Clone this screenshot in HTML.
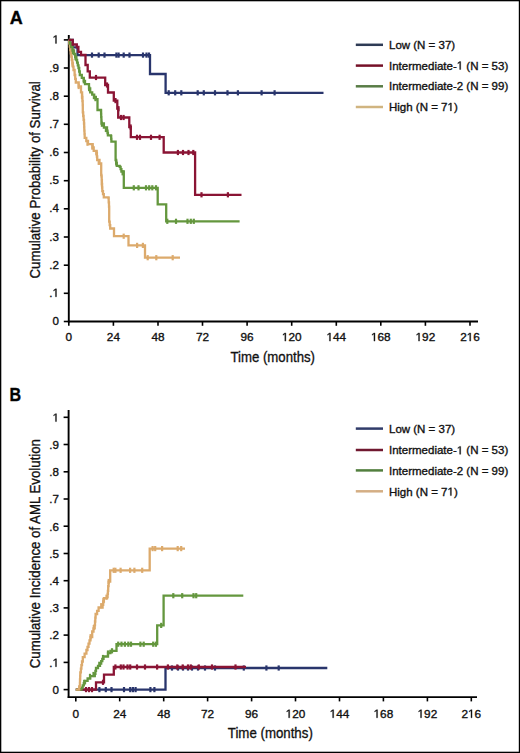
<!DOCTYPE html>
<html><head><meta charset="utf-8"><title>Kaplan-Meier curves</title>
<style>html,body{margin:0;padding:0;background:#fff;}body{width:520px;height:753px;overflow:hidden;font-family:"Liberation Sans",sans-serif;}svg{display:block;}</style>
</head><body>
<svg width="520" height="753" viewBox="0 0 520 753" font-family="Liberation Sans, sans-serif"><style>text{stroke:#111;stroke-width:0.35px;}.o1{fill:none;stroke:none;}</style>
<rect x="0" y="0" width="520" height="753" fill="#fff"/>
<text x="9.8" y="24.4" font-size="18" font-weight="bold" fill="#000">A</text>
<text x="9.4" y="400.8" font-size="18" font-weight="bold" fill="#000" textLength="11.6" lengthAdjust="spacingAndGlyphs">B</text>
<g stroke="#000" stroke-width="1.9" fill="none">
<line x1="68.8" y1="35.0" x2="68.8" y2="322.4"/>
<line x1="67.9" y1="321.5" x2="478.0" y2="321.5"/>
<line x1="63.8" y1="321.5" x2="68.8" y2="321.5" stroke-width="1.6"/>
<line x1="63.8" y1="293.3" x2="68.8" y2="293.3" stroke-width="1.6"/>
<line x1="63.8" y1="265.2" x2="68.8" y2="265.2" stroke-width="1.6"/>
<line x1="63.8" y1="237.0" x2="68.8" y2="237.0" stroke-width="1.6"/>
<line x1="63.8" y1="208.8" x2="68.8" y2="208.8" stroke-width="1.6"/>
<line x1="63.8" y1="180.7" x2="68.8" y2="180.7" stroke-width="1.6"/>
<line x1="63.8" y1="152.5" x2="68.8" y2="152.5" stroke-width="1.6"/>
<line x1="63.8" y1="124.3" x2="68.8" y2="124.3" stroke-width="1.6"/>
<line x1="63.8" y1="96.2" x2="68.8" y2="96.2" stroke-width="1.6"/>
<line x1="63.8" y1="68.0" x2="68.8" y2="68.0" stroke-width="1.6"/>
<line x1="63.8" y1="39.9" x2="68.8" y2="39.9" stroke-width="1.6"/>
<line x1="68.8" y1="321.5" x2="68.8" y2="325.8" stroke-width="1.6"/>
<line x1="113.4" y1="321.5" x2="113.4" y2="325.8" stroke-width="1.6"/>
<line x1="158.0" y1="321.5" x2="158.0" y2="325.8" stroke-width="1.6"/>
<line x1="202.5" y1="321.5" x2="202.5" y2="325.8" stroke-width="1.6"/>
<line x1="247.1" y1="321.5" x2="247.1" y2="325.8" stroke-width="1.6"/>
<line x1="291.7" y1="321.5" x2="291.7" y2="325.8" stroke-width="1.6"/>
<line x1="336.3" y1="321.5" x2="336.3" y2="325.8" stroke-width="1.6"/>
<line x1="380.8" y1="321.5" x2="380.8" y2="325.8" stroke-width="1.6"/>
<line x1="425.4" y1="321.5" x2="425.4" y2="325.8" stroke-width="1.6"/>
<line x1="470.0" y1="321.5" x2="470.0" y2="325.8" stroke-width="1.6"/>
</g>
<g font-size="11.6" fill="#111" text-anchor="end">
<text x="59" y="325.0">0</text>
<text x="59" y="296.8">.<tspan class="o1">1</tspan></text>
<text x="59" y="268.7">.2</text>
<text x="59" y="240.5">.3</text>
<text x="59" y="212.3">.4</text>
<text x="59" y="184.2">.5</text>
<text x="59" y="156.0">.6</text>
<text x="59" y="127.8">.7</text>
<text x="59" y="99.7">.8</text>
<text x="59" y="71.5">.9</text>
<text x="59" y="43.4"><tspan class="o1">1</tspan></text>
</g>
<g font-size="11.8" fill="#111" text-anchor="middle">
<text x="68.8" y="341.1">0</text>
<text x="113.4" y="341.1">24</text>
<text x="158.0" y="341.1">48</text>
<text x="202.5" y="341.1">72</text>
<text x="247.1" y="341.1">96</text>
<text x="291.7" y="341.1"><tspan class="o1">1</tspan>20</text>
<text x="336.3" y="341.1"><tspan class="o1">1</tspan>44</text>
<text x="380.8" y="341.1"><tspan class="o1">1</tspan>68</text>
<text x="425.4" y="341.1"><tspan class="o1">1</tspan>92</text>
<text x="470.0" y="341.1">2<tspan class="o1">1</tspan>6</text>
</g>
<g stroke="#000" stroke-width="1.9" fill="none">
<line x1="68.6" y1="410.0" x2="68.6" y2="698.0"/>
<line x1="67.7" y1="697.1" x2="477.0" y2="697.1"/>
<line x1="63.6" y1="689.6" x2="68.6" y2="689.6" stroke-width="1.6"/>
<line x1="63.6" y1="662.4" x2="68.6" y2="662.4" stroke-width="1.6"/>
<line x1="63.6" y1="635.1" x2="68.6" y2="635.1" stroke-width="1.6"/>
<line x1="63.6" y1="607.9" x2="68.6" y2="607.9" stroke-width="1.6"/>
<line x1="63.6" y1="580.7" x2="68.6" y2="580.7" stroke-width="1.6"/>
<line x1="63.6" y1="553.5" x2="68.6" y2="553.5" stroke-width="1.6"/>
<line x1="63.6" y1="526.2" x2="68.6" y2="526.2" stroke-width="1.6"/>
<line x1="63.6" y1="499.0" x2="68.6" y2="499.0" stroke-width="1.6"/>
<line x1="63.6" y1="471.8" x2="68.6" y2="471.8" stroke-width="1.6"/>
<line x1="63.6" y1="444.5" x2="68.6" y2="444.5" stroke-width="1.6"/>
<line x1="63.6" y1="417.3" x2="68.6" y2="417.3" stroke-width="1.6"/>
<line x1="75.8" y1="697.1" x2="75.8" y2="701.4" stroke-width="1.6"/>
<line x1="119.7" y1="697.1" x2="119.7" y2="701.4" stroke-width="1.6"/>
<line x1="163.7" y1="697.1" x2="163.7" y2="701.4" stroke-width="1.6"/>
<line x1="207.6" y1="697.1" x2="207.6" y2="701.4" stroke-width="1.6"/>
<line x1="251.6" y1="697.1" x2="251.6" y2="701.4" stroke-width="1.6"/>
<line x1="295.5" y1="697.1" x2="295.5" y2="701.4" stroke-width="1.6"/>
<line x1="339.5" y1="697.1" x2="339.5" y2="701.4" stroke-width="1.6"/>
<line x1="383.4" y1="697.1" x2="383.4" y2="701.4" stroke-width="1.6"/>
<line x1="427.4" y1="697.1" x2="427.4" y2="701.4" stroke-width="1.6"/>
<line x1="471.3" y1="697.1" x2="471.3" y2="701.4" stroke-width="1.6"/>
</g>
<g font-size="11.6" fill="#111" text-anchor="end">
<text x="59" y="693.9">0</text>
<text x="59" y="666.7">.<tspan class="o1">1</tspan></text>
<text x="59" y="639.4">.2</text>
<text x="59" y="612.2">.3</text>
<text x="59" y="585.0">.4</text>
<text x="59" y="557.8">.5</text>
<text x="59" y="530.5">.6</text>
<text x="59" y="503.3">.7</text>
<text x="59" y="476.1">.8</text>
<text x="59" y="448.8">.9</text>
<text x="59" y="421.6"><tspan class="o1">1</tspan></text>
</g>
<g font-size="11.8" fill="#111" text-anchor="middle">
<text x="75.8" y="717.8">0</text>
<text x="119.7" y="717.8">24</text>
<text x="163.7" y="717.8">48</text>
<text x="207.6" y="717.8">72</text>
<text x="251.6" y="717.8">96</text>
<text x="295.5" y="717.8"><tspan class="o1">1</tspan>20</text>
<text x="339.5" y="717.8"><tspan class="o1">1</tspan>44</text>
<text x="383.4" y="717.8"><tspan class="o1">1</tspan>68</text>
<text x="427.4" y="717.8"><tspan class="o1">1</tspan>92</text>
<text x="471.3" y="717.8">2<tspan class="o1">1</tspan>6</text>
</g>
<text x="230.4" y="362" font-size="15.5" fill="#111" textLength="84.6" lengthAdjust="spacingAndGlyphs">Time (months)</text>
<text x="227.8" y="738.2" font-size="15.5" fill="#111" textLength="85" lengthAdjust="spacingAndGlyphs">Time (months)</text>
<text transform="translate(39.9,278.5) rotate(-90)" font-size="15" fill="#111" textLength="197.2" lengthAdjust="spacingAndGlyphs">Cumulative Probability of Survival</text>
<text transform="translate(39.7,668.3) rotate(-90)" font-size="15" fill="#111" textLength="229.3" lengthAdjust="spacingAndGlyphs">Cumulative Incidence of AML Evolution</text>
<line x1="355.8" y1="44.8" x2="383" y2="44.8" stroke="#2e3b55" stroke-width="2.5"/>
<text x="389" y="48.7" font-size="11.5" fill="#111">Low (N = 37)</text>
<line x1="355.8" y1="65.6" x2="383" y2="65.6" stroke="#751027" stroke-width="2.5"/>
<text x="389" y="69.5" font-size="11.5" fill="#111">Intermediate-<tspan class="o1">1</tspan> (N = 53)</text>
<line x1="355.8" y1="86.3" x2="383" y2="86.3" stroke="#587c45" stroke-width="2.5"/>
<text x="389" y="90.2" font-size="11.5" fill="#111">Intermediate-2 (N = 99)</text>
<line x1="355.8" y1="107.0" x2="383" y2="107.0" stroke="#d0b480" stroke-width="2.5"/>
<text x="389" y="110.9" font-size="11.5" fill="#111">High (N = 7<tspan class="o1">1</tspan>)</text>
<line x1="355.8" y1="428.6" x2="383" y2="428.6" stroke="#303c6a" stroke-width="2.5"/>
<text x="389" y="432.9" font-size="11.5" fill="#111">Low (N = 37)</text>
<line x1="355.8" y1="450.0" x2="383" y2="450.0" stroke="#701830" stroke-width="2.5"/>
<text x="389" y="454.3" font-size="11.5" fill="#111">Intermediate-<tspan class="o1">1</tspan> (N = 53)</text>
<line x1="355.8" y1="470.4" x2="383" y2="470.4" stroke="#527f3e" stroke-width="2.5"/>
<text x="389" y="474.7" font-size="11.5" fill="#111">Intermediate-2 (N = 99)</text>
<line x1="355.8" y1="491.3" x2="383" y2="491.3" stroke="#d4ae84" stroke-width="2.5"/>
<text x="389" y="495.6" font-size="11.5" fill="#111">High (N = 7<tspan class="o1">1</tspan>)</text>
<path d="M68.8,39.9 L72.7,39.9 L72.7,47.3 L77.5,47.3 L77.5,55.1 L150.0,55.1 L150.0,74.0 L165.6,74.0 L165.6,92.8 L323.5,92.8" stroke="#29356c" stroke-width="2.3" fill="none" stroke-linejoin="miter" stroke-linecap="butt"/><g stroke="#29356c" stroke-width="2.2"><line x1="92.0" y1="52.5" x2="92.0" y2="57.7"/><line x1="98.7" y1="52.5" x2="98.7" y2="57.7"/><line x1="104.5" y1="52.5" x2="104.5" y2="57.7"/><line x1="116.4" y1="52.5" x2="116.4" y2="57.7"/><line x1="118.6" y1="52.5" x2="118.6" y2="57.7"/><line x1="123.7" y1="52.5" x2="123.7" y2="57.7"/><line x1="129.5" y1="52.5" x2="129.5" y2="57.7"/><line x1="143.0" y1="52.5" x2="143.0" y2="57.7"/><line x1="146.5" y1="52.5" x2="146.5" y2="57.7"/><line x1="149.0" y1="52.5" x2="149.0" y2="57.7"/><line x1="168.7" y1="90.2" x2="168.7" y2="95.4"/><line x1="175.2" y1="90.2" x2="175.2" y2="95.4"/><line x1="181.3" y1="90.2" x2="181.3" y2="95.4"/><line x1="197.7" y1="90.2" x2="197.7" y2="95.4"/><line x1="203.8" y1="90.2" x2="203.8" y2="95.4"/><line x1="215.0" y1="90.2" x2="215.0" y2="95.4"/><line x1="227.5" y1="90.2" x2="227.5" y2="95.4"/><line x1="237.9" y1="90.2" x2="237.9" y2="95.4"/><line x1="261.6" y1="90.2" x2="261.6" y2="95.4"/><line x1="274.6" y1="90.2" x2="274.6" y2="95.4"/></g>
<path d="M68.8,39.9 L69.3,39.9 L69.3,43.3 L69.8,43.3 L69.8,46.6 L70.3,46.6 L70.3,50.0 L70.8,50.0 L70.8,53.3 L71.3,53.3 L71.3,56.7 L71.8,56.7 L71.8,60.0 L72.4,60.0 L72.4,63.3 L72.9,63.3 L72.9,66.7 L73.5,66.7 L73.5,70.0 L74.6,70.0 L74.6,75.0 L75.2,75.0 L75.2,78.8 L75.8,78.8 L75.8,82.5 L78.7,82.5 L78.7,86.5 L81.0,86.5 L81.0,92.3 L82.1,92.3 L82.1,96.9 L82.4,96.9 L82.4,101.0 L82.7,101.0 L82.7,105.0 L82.8,105.0 L82.8,108.7 L82.8,108.7 L82.8,112.3 L83.2,112.3 L83.2,116.0 L83.6,116.0 L83.6,119.8 L84.0,119.8 L84.0,123.5 L84.2,123.5 L84.2,127.1 L84.3,127.1 L84.3,130.7 L84.5,130.7 L84.5,134.2 L84.7,134.2 L84.7,137.8 L86.3,137.8 L86.3,141.0 L88.0,141.0 L88.0,144.2 L92.7,144.2 L92.7,147.4 L93.7,147.4 L93.7,150.8 L96.6,150.8 L96.6,153.0 L96.9,153.0 L96.9,156.5 L97.2,156.5 L97.2,160.0 L99.5,160.0 L99.5,163.5 L101.2,163.5 L101.2,164.6 L101.2,175.0 L101.5,175.0 L101.5,176.5 L101.7,176.5 L101.7,180.2 L101.9,180.2 L101.9,183.8 L102.1,183.8 L102.1,187.5 L102.3,187.5 L102.3,191.2 L103.0,191.2 L103.0,194.2 L103.8,194.2 L103.8,197.3 L108.5,197.3 L108.5,198.0 L108.7,198.0 L108.7,202.3 L109.0,202.3 L109.0,206.7 L109.2,206.7 L109.2,211.0 L109.2,221.7 L109.7,221.7 L109.7,225.1 L110.2,225.1 L110.2,228.5 L114.0,228.5 L114.0,236.2 L128.5,236.2 L128.5,245.4 L145.0,245.4 L145.0,257.7 L180.0,257.7" stroke="#dcaa6c" stroke-width="2.3" fill="none" stroke-linejoin="miter" stroke-linecap="butt"/><g stroke="#dcaa6c" stroke-width="2.2"><line x1="72.5" y1="61.5" x2="72.5" y2="66.7"/><line x1="78.7" y1="83.9" x2="78.7" y2="89.1"/><line x1="82.0" y1="93.9" x2="82.0" y2="99.1"/><line x1="87.5" y1="140.6" x2="87.5" y2="145.8"/><line x1="92.3" y1="144.5" x2="92.3" y2="149.7"/><line x1="96.3" y1="150.2" x2="96.3" y2="155.4"/><line x1="98.7" y1="159.7" x2="98.7" y2="164.9"/><line x1="101.9" y1="181.3" x2="101.9" y2="186.5"/><line x1="123.7" y1="233.6" x2="123.7" y2="238.8"/><line x1="137.1" y1="242.8" x2="137.1" y2="248.0"/><line x1="142.9" y1="242.8" x2="142.9" y2="248.0"/><line x1="147.7" y1="255.1" x2="147.7" y2="260.3"/><line x1="156.3" y1="255.1" x2="156.3" y2="260.3"/><line x1="172.7" y1="255.1" x2="172.7" y2="260.3"/></g>
<path d="M68.8,39.9 L69.9,39.9 L69.9,43.5 L71.0,43.5 L71.0,47.0 L72.5,47.0 L72.5,50.5 L74.0,50.5 L74.0,54.0 L75.2,54.0 L75.2,57.0 L76.4,57.0 L76.4,60.0 L77.1,60.0 L77.1,62.7 L77.8,62.7 L77.8,65.3 L78.5,65.3 L78.5,68.0 L79.2,68.0 L79.2,71.5 L79.8,71.5 L79.8,75.0 L81.8,75.0 L81.8,77.9 L83.8,77.9 L83.8,80.8 L85.0,80.8 L85.0,84.2 L89.0,84.2 L89.0,88.3 L90.2,88.3 L90.2,92.3 L92.2,92.3 L92.2,94.6 L94.2,94.6 L94.2,96.9 L95.8,96.9 L95.8,99.1 L97.5,99.1 L97.5,101.2 L97.5,110.0 L101.0,110.0 L101.0,110.7 L101.1,110.7 L101.1,113.9 L101.2,113.9 L101.2,117.1 L101.4,117.1 L101.4,120.3 L101.5,120.3 L101.5,123.5 L103.9,123.5 L103.9,127.5 L107.0,127.5 L107.0,130.6 L107.5,130.6 L107.5,133.0 L107.9,133.0 L107.9,135.4 L111.0,135.4 L111.0,136.2 L111.2,136.2 L111.2,138.9 L111.4,138.9 L111.4,141.6 L115.6,141.6 L115.6,160.0 L116.2,160.0 L116.2,162.9 L116.8,162.9 L116.8,165.8 L119.7,165.8 L119.7,166.9 L120.6,166.9 L120.6,169.2 L121.4,169.2 L121.4,171.5 L123.8,171.5 L123.8,174.2 L123.8,187.8 L157.7,187.8 L157.7,204.3 L166.2,204.3 L166.2,221.4 L239.6,221.4" stroke="#64973e" stroke-width="2.3" fill="none" stroke-linejoin="miter" stroke-linecap="butt"/><g stroke="#64973e" stroke-width="2.2"><line x1="133.8" y1="185.2" x2="133.8" y2="190.4"/><line x1="138.5" y1="185.2" x2="138.5" y2="190.4"/><line x1="146.0" y1="185.2" x2="146.0" y2="190.4"/><line x1="149.2" y1="185.2" x2="149.2" y2="190.4"/><line x1="152.3" y1="185.2" x2="152.3" y2="190.4"/><line x1="156.0" y1="185.2" x2="156.0" y2="190.4"/><line x1="167.3" y1="218.7" x2="167.3" y2="223.9"/><line x1="176.0" y1="218.7" x2="176.0" y2="223.9"/><line x1="187.5" y1="218.7" x2="187.5" y2="223.9"/><line x1="190.8" y1="218.7" x2="190.8" y2="223.9"/><line x1="193.8" y1="218.7" x2="193.8" y2="223.9"/><line x1="73.0" y1="49.1" x2="73.0" y2="54.3"/><line x1="75.5" y1="55.1" x2="75.5" y2="60.3"/><line x1="83.8" y1="78.2" x2="83.8" y2="83.4"/><line x1="89.1" y1="86.0" x2="89.1" y2="91.2"/><line x1="93.9" y1="94.0" x2="93.9" y2="99.2"/><line x1="95.5" y1="96.0" x2="95.5" y2="101.2"/><line x1="101.9" y1="121.6" x2="101.9" y2="126.8"/><line x1="105.9" y1="126.9" x2="105.9" y2="132.1"/><line x1="116.2" y1="160.3" x2="116.2" y2="165.5"/><line x1="122.6" y1="170.2" x2="122.6" y2="175.4"/></g>
<path d="M68.8,39.9 L72.7,39.9 L72.7,44.5 L76.8,44.5 L76.8,47.0 L78.4,47.0 L78.4,51.8 L81.0,51.8 L81.0,55.0 L85.5,55.0 L85.5,65.0 L87.7,65.0 L87.7,71.4 L89.8,71.4 L89.8,77.7 L105.2,77.7 L105.2,85.0 L108.0,85.0 L108.0,92.5 L113.8,92.5 L113.8,100.6 L117.3,100.6 L117.3,108.7 L118.2,108.7 L118.2,117.5 L129.3,117.5 L129.3,127.0 L130.8,127.0 L130.8,137.2 L163.7,137.2 L163.7,152.5 L195.1,152.5 L195.1,194.8 L241.5,194.8" stroke="#8a1434" stroke-width="2.3" fill="none" stroke-linejoin="miter" stroke-linecap="butt"/><g stroke="#8a1434" stroke-width="2.2"><line x1="96.0" y1="74.9" x2="96.0" y2="80.1"/><line x1="107.0" y1="82.4" x2="107.0" y2="87.6"/><line x1="115.5" y1="98.0" x2="115.5" y2="103.2"/><line x1="118.5" y1="106.1" x2="118.5" y2="111.3"/><line x1="121.0" y1="114.9" x2="121.0" y2="120.1"/><line x1="123.6" y1="114.9" x2="123.6" y2="120.1"/><line x1="130.6" y1="124.4" x2="130.6" y2="129.6"/><line x1="137.0" y1="134.7" x2="137.0" y2="139.9"/><line x1="140.0" y1="134.7" x2="140.0" y2="139.9"/><line x1="151.0" y1="134.7" x2="151.0" y2="139.9"/><line x1="159.6" y1="134.7" x2="159.6" y2="139.9"/><line x1="177.9" y1="149.9" x2="177.9" y2="155.1"/><line x1="183.0" y1="149.9" x2="183.0" y2="155.1"/><line x1="188.5" y1="149.9" x2="188.5" y2="155.1"/><line x1="193.3" y1="149.9" x2="193.3" y2="155.1"/><line x1="201.5" y1="192.2" x2="201.5" y2="197.4"/><line x1="227.9" y1="192.2" x2="227.9" y2="197.4"/></g>
<path d="M75.8,689.6 L165.5,689.6 L165.5,668.0 L327.3,668.0" stroke="#29356c" stroke-width="2.3" fill="none" stroke-linejoin="miter" stroke-linecap="butt"/><g stroke="#29356c" stroke-width="2.2"><line x1="99.4" y1="687.0" x2="99.4" y2="692.2"/><line x1="105.8" y1="687.0" x2="105.8" y2="692.2"/><line x1="111.5" y1="687.0" x2="111.5" y2="692.2"/><line x1="124.0" y1="687.0" x2="124.0" y2="692.2"/><line x1="130.2" y1="687.0" x2="130.2" y2="692.2"/><line x1="132.9" y1="687.0" x2="132.9" y2="692.2"/><line x1="135.6" y1="687.0" x2="135.6" y2="692.2"/><line x1="150.4" y1="687.0" x2="150.4" y2="692.2"/><line x1="154.4" y1="687.0" x2="154.4" y2="692.2"/><line x1="172.0" y1="665.4" x2="172.0" y2="670.6"/><line x1="178.0" y1="665.4" x2="178.0" y2="670.6"/><line x1="183.0" y1="665.4" x2="183.0" y2="670.6"/><line x1="188.0" y1="665.4" x2="188.0" y2="670.6"/><line x1="192.0" y1="665.4" x2="192.0" y2="670.6"/><line x1="198.0" y1="665.4" x2="198.0" y2="670.6"/><line x1="205.0" y1="665.4" x2="205.0" y2="670.6"/><line x1="215.0" y1="665.4" x2="215.0" y2="670.6"/><line x1="243.8" y1="665.4" x2="243.8" y2="670.6"/><line x1="266.4" y1="665.4" x2="266.4" y2="670.6"/><line x1="278.7" y1="665.4" x2="278.7" y2="670.6"/></g>
<path d="M75.8,689.6 L96.0,689.6 L96.0,682.3 L104.0,682.3 L104.0,674.6 L113.8,674.6 L113.8,667.0 L246.0,667.0" stroke="#8a1434" stroke-width="2.3" fill="none" stroke-linejoin="miter" stroke-linecap="butt"/><g stroke="#8a1434" stroke-width="2.2"><line x1="86.0" y1="687.0" x2="86.0" y2="692.2"/><line x1="89.0" y1="687.0" x2="89.0" y2="692.2"/><line x1="92.0" y1="687.0" x2="92.0" y2="692.2"/><line x1="103.0" y1="679.7" x2="103.0" y2="684.9"/><line x1="115.4" y1="664.4" x2="115.4" y2="669.6"/><line x1="120.8" y1="664.4" x2="120.8" y2="669.6"/><line x1="123.5" y1="664.4" x2="123.5" y2="669.6"/><line x1="127.5" y1="664.4" x2="127.5" y2="669.6"/><line x1="130.2" y1="664.4" x2="130.2" y2="669.6"/><line x1="137.0" y1="664.4" x2="137.0" y2="669.6"/><line x1="145.0" y1="664.4" x2="145.0" y2="669.6"/><line x1="157.1" y1="664.4" x2="157.1" y2="669.6"/><line x1="167.9" y1="664.4" x2="167.9" y2="669.6"/><line x1="177.3" y1="664.4" x2="177.3" y2="669.6"/><line x1="182.7" y1="664.4" x2="182.7" y2="669.6"/><line x1="188.0" y1="664.4" x2="188.0" y2="669.6"/><line x1="190.8" y1="664.4" x2="190.8" y2="669.6"/><line x1="198.8" y1="664.4" x2="198.8" y2="669.6"/><line x1="212.0" y1="664.4" x2="212.0" y2="669.6"/><line x1="235.5" y1="664.4" x2="235.5" y2="669.6"/></g>
<path d="M75.8,689.6 L81.5,689.6 L81.5,687.7 L82.7,687.7 L82.7,685.4 L83.8,685.4 L83.8,683.1 L85.0,683.1 L85.0,680.8 L87.6,680.8 L87.6,678.5 L90.2,678.5 L90.2,676.2 L94.8,676.2 L94.8,673.8 L95.4,673.8 L95.4,670.9 L96.0,670.9 L96.0,668.0 L98.0,668.0 L98.0,665.8 L100.0,665.8 L100.0,663.5 L101.2,663.5 L101.2,661.2 L102.3,661.2 L102.3,658.8 L103.5,658.8 L103.5,656.5 L108.0,656.5 L108.0,653.0 L110.4,653.0 L110.4,650.8 L116.5,650.8 L116.5,644.2 L157.2,644.2 L157.2,625.4 L163.6,625.4 L163.6,595.7 L243.3,595.7" stroke="#64973e" stroke-width="2.3" fill="none" stroke-linejoin="miter" stroke-linecap="butt"/><g stroke="#64973e" stroke-width="2.2"><line x1="84.2" y1="679.8" x2="84.2" y2="685.0"/><line x1="90.0" y1="673.8" x2="90.0" y2="679.0"/><line x1="93.5" y1="671.9" x2="93.5" y2="677.1"/><line x1="99.3" y1="661.7" x2="99.3" y2="666.9"/><line x1="103.0" y1="654.9" x2="103.0" y2="660.1"/><line x1="108.0" y1="650.4" x2="108.0" y2="655.6"/><line x1="112.0" y1="648.2" x2="112.0" y2="653.4"/><line x1="118.2" y1="641.6" x2="118.2" y2="646.8"/><line x1="121.5" y1="641.6" x2="121.5" y2="646.8"/><line x1="124.9" y1="641.6" x2="124.9" y2="646.8"/><line x1="128.3" y1="641.6" x2="128.3" y2="646.8"/><line x1="131.0" y1="641.6" x2="131.0" y2="646.8"/><line x1="140.4" y1="641.6" x2="140.4" y2="646.8"/><line x1="143.7" y1="641.6" x2="143.7" y2="646.8"/><line x1="153.2" y1="641.6" x2="153.2" y2="646.8"/><line x1="155.9" y1="641.6" x2="155.9" y2="646.8"/><line x1="161.2" y1="622.8" x2="161.2" y2="628.0"/><line x1="173.3" y1="593.1" x2="173.3" y2="598.3"/><line x1="182.2" y1="593.1" x2="182.2" y2="598.3"/><line x1="193.5" y1="593.1" x2="193.5" y2="598.3"/><line x1="196.2" y1="593.1" x2="196.2" y2="598.3"/></g>
<path d="M75.8,689.6 L78.5,689.6 L79.2,689.6 L79.2,686.3 L79.9,686.3 L79.9,683.0 L80.0,683.0 L80.0,679.4 L80.2,679.4 L80.2,675.9 L80.3,675.9 L80.3,672.3 L80.9,672.3 L80.9,668.7 L81.4,668.7 L81.4,665.1 L82.0,665.1 L82.0,661.5 L82.8,661.5 L82.8,657.2 L84.6,657.2 L84.6,653.6 L86.4,653.6 L86.4,650.0 L87.5,650.0 L87.5,646.8 L88.5,646.8 L88.5,643.6 L89.5,643.6 L89.5,640.3 L90.5,640.3 L90.5,637.0 L92.2,637.0 L92.2,631.5 L93.5,631.5 L93.5,628.4 L94.7,628.4 L94.7,625.2 L95.0,625.2 L95.0,621.5 L95.3,621.5 L95.3,617.7 L95.6,617.7 L95.6,614.0 L97.1,614.0 L97.1,610.8 L98.6,610.8 L98.6,607.5 L102.6,607.5 L102.6,604.8 L103.2,604.8 L103.2,601.5 L103.9,601.5 L103.9,598.2 L107.2,598.2 L107.2,596.9 L107.6,596.9 L107.6,593.9 L107.9,593.9 L107.9,590.9 L108.2,590.9 L108.2,586.2 L108.6,586.2 L108.6,581.6 L110.2,581.6 L110.2,580.3 L110.2,570.3 L149.7,570.3 L149.7,548.6 L185.0,548.6" stroke="#dcaa6c" stroke-width="2.3" fill="none" stroke-linejoin="miter" stroke-linecap="butt"/><g stroke="#dcaa6c" stroke-width="2.2"><line x1="90.6" y1="634.1" x2="90.6" y2="639.3"/><line x1="93.8" y1="624.9" x2="93.8" y2="630.1"/><line x1="101.2" y1="603.1" x2="101.2" y2="608.3"/><line x1="103.4" y1="598.1" x2="103.4" y2="603.3"/><line x1="106.5" y1="594.6" x2="106.5" y2="599.8"/><line x1="108.7" y1="578.9" x2="108.7" y2="584.1"/><line x1="113.7" y1="567.7" x2="113.7" y2="572.9"/><line x1="115.4" y1="567.7" x2="115.4" y2="572.9"/><line x1="120.6" y1="567.7" x2="120.6" y2="572.9"/><line x1="130.1" y1="567.7" x2="130.1" y2="572.9"/><line x1="134.4" y1="567.7" x2="134.4" y2="572.9"/><line x1="142.2" y1="567.7" x2="142.2" y2="572.9"/><line x1="152.6" y1="546.0" x2="152.6" y2="551.2"/><line x1="155.2" y1="546.0" x2="155.2" y2="551.2"/><line x1="162.1" y1="546.0" x2="162.1" y2="551.2"/><line x1="177.7" y1="546.0" x2="177.7" y2="551.2"/><line x1="181.2" y1="546.0" x2="181.2" y2="551.2"/></g>
<g fill="#000"><rect x="0" y="0" width="520" height="1.3"/><rect x="0" y="0" width="1.3" height="753"/><rect x="518.8" y="0" width="1.2" height="753"/><rect x="0" y="751.7" width="520" height="1.3"/></g>
<g fill="#111" stroke="#111">
<path transform="translate(52.55,296.80) scale(0.00566,-0.00566)" stroke-width="61.8" d="M515,0 L515,1237 L197,1010 L197,1180 L530,1409 L696,1409 L696,0 Z"/>
<path transform="translate(52.55,43.40) scale(0.00566,-0.00566)" stroke-width="61.8" d="M515,0 L515,1237 L197,1010 L197,1180 L530,1409 L696,1409 L696,0 Z"/>
<path transform="translate(281.86,341.10) scale(0.00576,-0.00576)" stroke-width="60.7" d="M515,0 L515,1237 L197,1010 L197,1180 L530,1409 L696,1409 L696,0 Z"/>
<path transform="translate(326.46,341.10) scale(0.00576,-0.00576)" stroke-width="60.7" d="M515,0 L515,1237 L197,1010 L197,1180 L530,1409 L696,1409 L696,0 Z"/>
<path transform="translate(370.96,341.10) scale(0.00576,-0.00576)" stroke-width="60.7" d="M515,0 L515,1237 L197,1010 L197,1180 L530,1409 L696,1409 L696,0 Z"/>
<path transform="translate(415.56,341.10) scale(0.00576,-0.00576)" stroke-width="60.7" d="M515,0 L515,1237 L197,1010 L197,1180 L530,1409 L696,1409 L696,0 Z"/>
<path transform="translate(466.72,341.10) scale(0.00576,-0.00576)" stroke-width="60.7" d="M515,0 L515,1237 L197,1010 L197,1180 L530,1409 L696,1409 L696,0 Z"/>
<path transform="translate(52.55,666.70) scale(0.00566,-0.00566)" stroke-width="61.8" d="M515,0 L515,1237 L197,1010 L197,1180 L530,1409 L696,1409 L696,0 Z"/>
<path transform="translate(52.55,421.60) scale(0.00566,-0.00566)" stroke-width="61.8" d="M515,0 L515,1237 L197,1010 L197,1180 L530,1409 L696,1409 L696,0 Z"/>
<path transform="translate(285.66,717.80) scale(0.00576,-0.00576)" stroke-width="60.7" d="M515,0 L515,1237 L197,1010 L197,1180 L530,1409 L696,1409 L696,0 Z"/>
<path transform="translate(329.66,717.80) scale(0.00576,-0.00576)" stroke-width="60.7" d="M515,0 L515,1237 L197,1010 L197,1180 L530,1409 L696,1409 L696,0 Z"/>
<path transform="translate(373.56,717.80) scale(0.00576,-0.00576)" stroke-width="60.7" d="M515,0 L515,1237 L197,1010 L197,1180 L530,1409 L696,1409 L696,0 Z"/>
<path transform="translate(417.56,717.80) scale(0.00576,-0.00576)" stroke-width="60.7" d="M515,0 L515,1237 L197,1010 L197,1180 L530,1409 L696,1409 L696,0 Z"/>
<path transform="translate(468.02,717.80) scale(0.00576,-0.00576)" stroke-width="60.7" d="M515,0 L515,1237 L197,1010 L197,1180 L530,1409 L696,1409 L696,0 Z"/>
<path transform="translate(456.77,69.50) scale(0.00562,-0.00562)" stroke-width="62.3" d="M515,0 L515,1237 L197,1010 L197,1180 L530,1409 L696,1409 L696,0 Z"/>
<path transform="translate(447.48,110.90) scale(0.00562,-0.00562)" stroke-width="62.3" d="M515,0 L515,1237 L197,1010 L197,1180 L530,1409 L696,1409 L696,0 Z"/>
<path transform="translate(456.77,454.30) scale(0.00562,-0.00562)" stroke-width="62.3" d="M515,0 L515,1237 L197,1010 L197,1180 L530,1409 L696,1409 L696,0 Z"/>
<path transform="translate(447.48,495.60) scale(0.00562,-0.00562)" stroke-width="62.3" d="M515,0 L515,1237 L197,1010 L197,1180 L530,1409 L696,1409 L696,0 Z"/>
</g>
</svg>
</body></html>
